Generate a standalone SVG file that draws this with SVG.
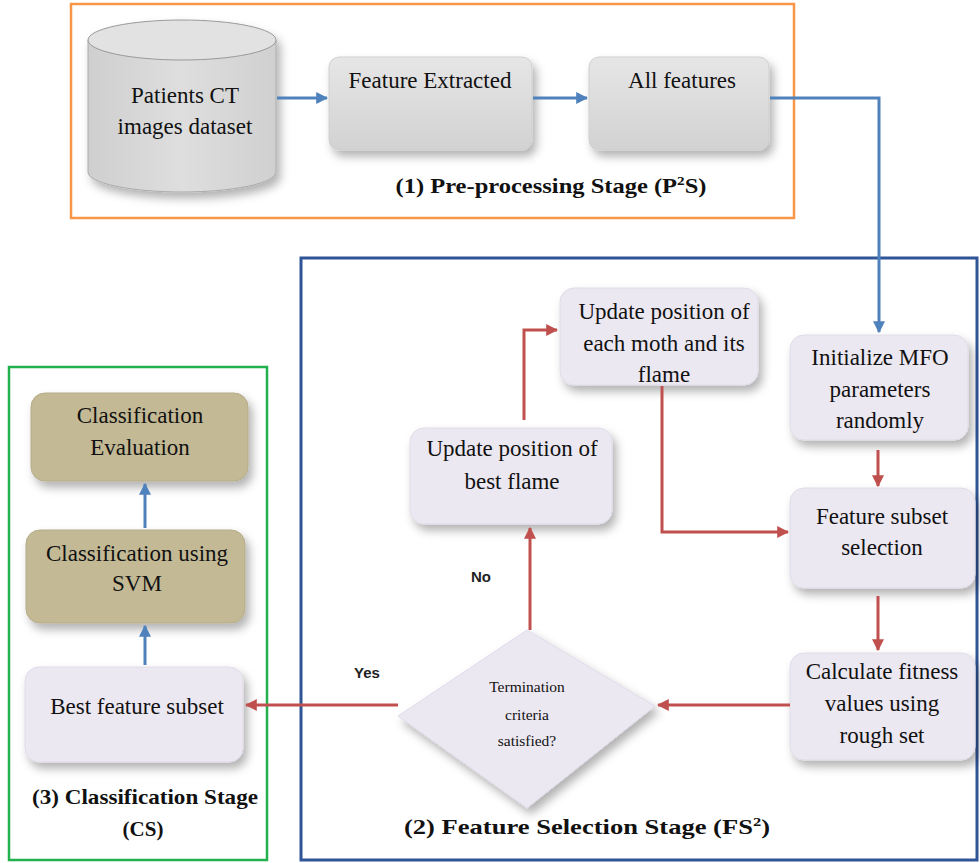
<svg xmlns="http://www.w3.org/2000/svg" width="980" height="863" viewBox="0 0 980 863">
<defs>
<filter id="sh" x="-20%" y="-20%" width="150%" height="160%">
<feDropShadow dx="4" dy="6" stdDeviation="5" flood-color="#000" flood-opacity="0.3"/>
</filter>
<linearGradient id="gray" x1="0" y1="0" x2="0" y2="1">
<stop offset="0" stop-color="#e6e6e6"/><stop offset="1" stop-color="#d2d2d2"/>
</linearGradient>
<linearGradient id="cyl" x1="0" y1="0" x2="1" y2="0">
<stop offset="0" stop-color="#cfcfcf"/><stop offset="0.5" stop-color="#dedede"/><stop offset="1" stop-color="#d0d0d0"/>
</linearGradient>
<marker id="ab" viewBox="0 0 10 10" refX="9" refY="5" markerWidth="4" markerHeight="4" orient="auto"><path d="M0,0 L10,5 L0,10 z" fill="#4f81bd"/></marker>
<marker id="ar" viewBox="0 0 10 10" refX="9" refY="5" markerWidth="4" markerHeight="4" orient="auto"><path d="M0,0 L10,5 L0,10 z" fill="#c0504d"/></marker>
</defs>
<style>
.t{font-family:"Liberation Serif","Times New Roman",serif;font-size:23px;fill:#111;text-anchor:middle}
.s{font-family:"Liberation Serif","Times New Roman",serif;font-size:15.5px;fill:#111;text-anchor:middle}
.b{font-family:"Liberation Serif","Times New Roman",serif;font-size:21px;font-weight:bold;fill:#111;text-anchor:middle}
.lb{font-family:"Liberation Sans",Arial,sans-serif;font-size:15px;font-weight:bold;fill:#222;text-anchor:middle}
.lav{fill:#ece8f1;stroke:#e0dbe8;stroke-width:1}
.kh{fill:#c3b995;stroke:#b5ab88;stroke-width:1}
.gr{fill:url(#gray);stroke:#cfcfcf;stroke-width:1}
.cb{fill:none;stroke:#4f81bd;stroke-width:3;marker-end:url(#ab)}
.cr{fill:none;stroke:#c0504d;stroke-width:3;marker-end:url(#ar)}
</style>
<rect x="0" y="0" width="980" height="863" fill="#fff"/>
<g id="stage1">
<rect x="71" y="4" width="723" height="214" fill="none" stroke="#f79646" stroke-width="2.5"/>
<text class="b" x="551" y="193" textLength="311" lengthAdjust="spacingAndGlyphs">(1) Pre-processing Stage (P<tspan font-size="13" dy="-8">2</tspan><tspan dy="8">S)</tspan></text>
</g>
<g id="stage2">
<rect x="301" y="258" width="676" height="602" fill="none" stroke="#2f5597" stroke-width="3"/>
<text class="b" x="587" y="834" textLength="366" lengthAdjust="spacingAndGlyphs">(2) Feature Selection Stage (FS<tspan font-size="13" dy="-8">2</tspan><tspan dy="8">)</tspan></text>
</g>
<g id="stage3">
<rect x="9" y="367" width="258" height="493" fill="none" stroke="#22b14c" stroke-width="2.5"/>
<text class="b" x="145" y="804" textLength="226" lengthAdjust="spacingAndGlyphs">(3) Classification Stage</text>
<text class="b" x="143" y="836">(CS)</text>
</g>
<g id="dataset">
<g filter="url(#sh)">
<path d="M88,40 L88,172 A94,20 0 0 0 276,172 L276,40 Z" fill="url(#cyl)" stroke="#aaa" stroke-width="1"/>
<ellipse cx="182" cy="40" rx="94" ry="20" fill="#e2e2e2" stroke="#999" stroke-width="1"/>
</g>
<text class="t" x="185" y="103">Patients CT</text>
<text class="t" x="185" y="134">images dataset</text>
</g>
<g id="featext">
<rect x="329" y="57" width="203" height="93" rx="10" class="gr" filter="url(#sh)"/>
<text class="t" x="430" y="88">Feature Extracted</text>
</g>
<g id="allfeat">
<rect x="589" y="57" width="180" height="93" rx="10" class="gr" filter="url(#sh)"/>
<text class="t" x="682" y="88">All features</text>
</g>
<g id="updmoth">
<rect x="560" y="288" width="198" height="97" rx="14" class="lav" filter="url(#sh)"/>
<text class="t" x="664" y="319">Update position of</text>
<text class="t" x="664" y="351">each moth and its</text>
<text class="t" x="664" y="382">flame</text>
</g>
<g id="initmfo">
<rect x="790" y="335" width="178" height="105" rx="14" class="lav" filter="url(#sh)"/>
<text class="t" x="880" y="365">Initialize MFO</text>
<text class="t" x="880" y="397">parameters</text>
<text class="t" x="880" y="428">randomly</text>
</g>
<g id="updbest">
<rect x="410" y="428" width="202" height="96" rx="14" class="lav" filter="url(#sh)"/>
<text class="t" x="512" y="456">Update position of</text>
<text class="t" x="512" y="489">best flame</text>
</g>
<g id="featsub">
<rect x="790" y="488" width="185" height="100" rx="14" class="lav" filter="url(#sh)"/>
<text class="t" x="882" y="524">Feature subset</text>
<text class="t" x="882" y="555">selection</text>
</g>
<g id="fitness">
<rect x="790" y="653" width="185" height="107" rx="14" class="lav" filter="url(#sh)"/>
<text class="t" x="882" y="679">Calculate fitness</text>
<text class="t" x="882" y="711">values using</text>
<text class="t" x="882" y="743">rough set</text>
</g>
<g id="decision">
<polygon points="527,630 655,706 527,808 398,716" class="lav" filter="url(#sh)"/>
<text class="s" x="527" y="692">Termination</text>
<text class="s" x="527" y="720">criteria</text>
<text class="s" x="527" y="746">satisfied?</text>
</g>
<g id="bestsub">
<rect x="25" y="667" width="218" height="95" rx="14" class="lav" filter="url(#sh)"/>
<text class="t" x="137" y="714">Best feature subset</text>
</g>
<g id="svm">
<rect x="26" y="530" width="219" height="93" rx="14" class="kh" filter="url(#sh)"/>
<text class="t" x="137" y="561">Classification using</text>
<text class="t" x="137" y="591">SVM</text>
</g>
<g id="eval">
<rect x="31" y="393" width="217" height="88" rx="14" class="kh" filter="url(#sh)"/>
<text class="t" x="140" y="423">Classification</text>
<text class="t" x="140" y="455">Evaluation</text>
</g>
<g id="connectors">
<path class="cb" d="M277,98 L327,98"/>
<path class="cb" d="M533,98 L587,98"/>
<path class="cb" d="M770,98 L879,98 L879,332"/>
<path class="cb" d="M145,665 L145,626"/>
<path class="cb" d="M145,528 L145,484"/>
<path class="cr" d="M878,450 L878,486"/>
<path class="cr" d="M878,596 L878,650"/>
<path class="cr" d="M790,705 L658,705"/>
<path class="cr" d="M398,705 L246,705"/>
<path class="cr" d="M530,630 L530,528"/>
<path class="cr" d="M524,420 L524,330 L557,330"/>
<path class="cr" d="M662,386 L662,532 L788,532"/>
<text class="lb" x="367" y="678">Yes</text>
<text class="lb" x="481" y="582">No</text>
</g>
</svg>
